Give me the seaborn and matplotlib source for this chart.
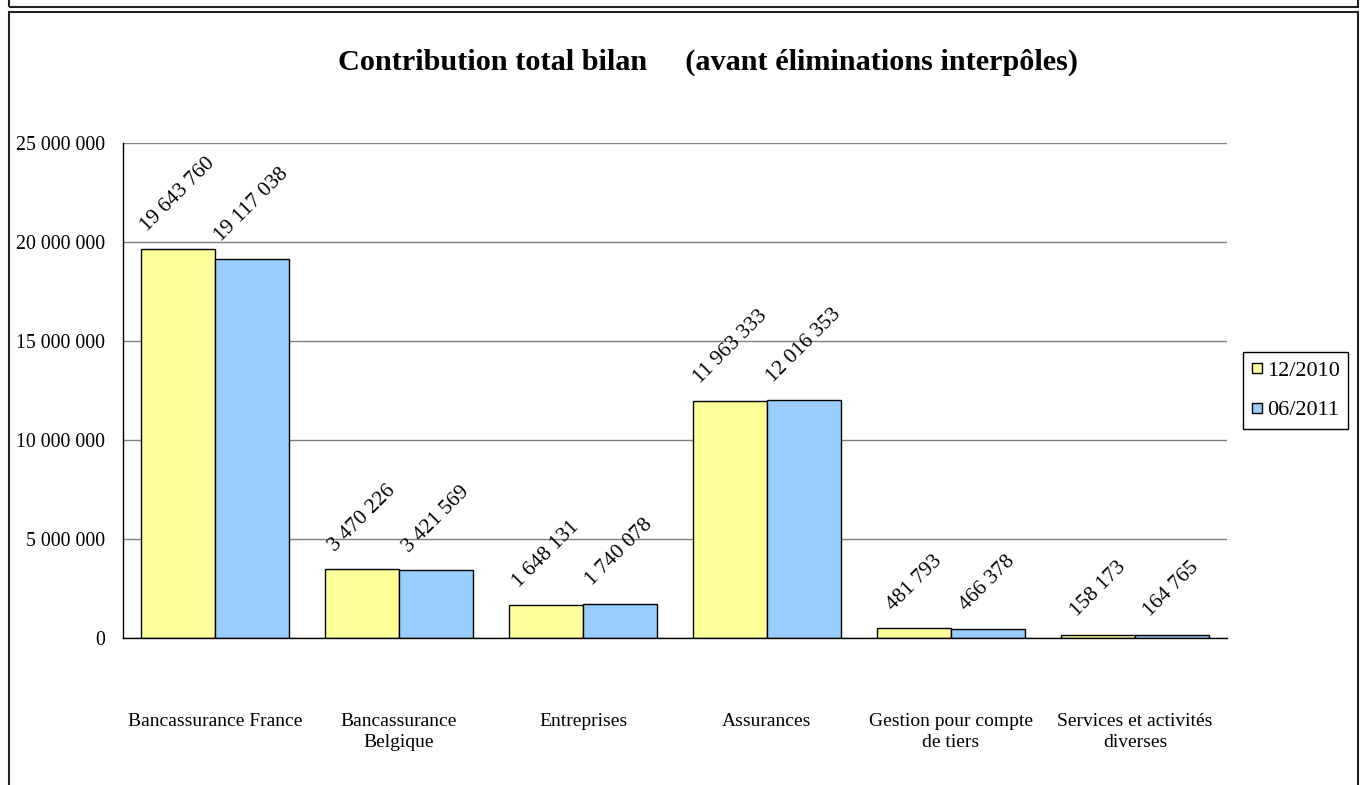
import matplotlib

matplotlib.use("Agg")
import matplotlib.pyplot as plt
import matplotlib.ticker as mticker
import pandas as pd
import seaborn as sns
from matplotlib.lines import Line2D
from matplotlib.patches import Rectangle

categories = [
    "Bancassurance France",
    "Bancassurance\nBelgique",
    "Entreprises",
    "Assurances",
    "Gestion pour compte\nde tiers",
    "Services et activités\ndiverses",
]
periods = ["12/2010", "06/2011"]
values_2010 = [19643760, 3470226, 1648131, 11963333, 481793, 158173]
values_2011 = [19117038, 3421569, 1740078, 12016353, 466378, 164765]
bar_colors = ["#FFFF99", "#99CCFF"]
y_ticks = [0, 5000000, 10000000, 15000000, 20000000, 25000000]

W, H = 1363, 785


def fmt_space(v, _pos=None):
    return f"{int(v):,}".replace(",", " ")


df = pd.DataFrame(
    {
        "segment": categories * 2,
        "periode": [periods[0]] * len(categories) + [periods[1]] * len(categories),
        "montant": values_2010 + values_2011,
    }
)

sns.set_style("white")
plt.rcParams["font.family"] = ["Liberation Serif", "DejaVu Serif"]
plt.rcParams["text.color"] = "black"
plt.rcParams["xtick.color"] = "black"
plt.rcParams["ytick.color"] = "black"

fig = plt.figure(figsize=(W / 100, H / 100), dpi=100)
ax = fig.add_axes([123 / W, 1 - 638 / H, (1227 - 123) / W, (638 - 143) / H])

sns.barplot(
    data=df,
    x="segment",
    y="montant",
    hue="periode",
    order=categories,
    hue_order=periods,
    palette=bar_colors,
    saturation=1,
    edgecolor="black",
    linewidth=1,
    width=0.8,
    legend=False,
    ax=ax,
)

for container, vals in zip(ax.containers, [values_2010, values_2011]):
    ax.bar_label(
        container,
        labels=[fmt_space(v) for v in vals],
        padding=10,
        rotation=45,
        fontsize=15.5,
        color="black",
    )

ax.set_xlim(-0.5, len(categories) - 0.5)
ax.set_ylim(0, 25000000)
ax.set_yticks(y_ticks)
ax.yaxis.set_major_formatter(mticker.FuncFormatter(fmt_space))
ax.yaxis.grid(True, color="#808080", linewidth=1)
ax.set_axisbelow(True)
ax.set_xlabel("")
ax.set_ylabel("")

ax.set_xticks(range(len(categories)))
ax.set_xticklabels(categories, fontsize=14, linespacing=1.3)
ax.set_xticks([i - 0.5 for i in range(len(categories) + 1)], minor=True)
ax.tick_params(axis="x", which="major", length=0, pad=54)
ax.tick_params(axis="x", which="minor", length=6, width=1, direction="out", color="black")
ax.tick_params(axis="y", length=6, width=1, direction="out", color="black", labelsize=14.3, pad=7)

for side in ["top", "right"]:
    ax.spines[side].set_visible(False)
for side in ["left", "bottom"]:
    ax.spines[side].set_color("black")
    ax.spines[side].set_linewidth(1)

fig.text(
    708 / W,
    1 - 62 / H,
    "Contribution total bilan     (avant éliminations interpôles)",
    ha="center",
    va="center",
    fontsize=21.8,
    fontweight="bold",
)

handles = [
    Line2D([], [], marker="s", linestyle="none", markersize=7,
           markerfacecolor=c, markeredgecolor="black", markeredgewidth=1)
    for c in bar_colors
]
fig.legend(
    handles,
    periods,
    loc="upper left",
    bbox_to_anchor=(1243 / W, 1 - 352 / H),
    bbox_transform=fig.transFigure,
    borderaxespad=0,
    fontsize=16,
    frameon=True,
    fancybox=False,
    edgecolor="black",
    framealpha=1,
    handlelength=0.5,
    handletextpad=0.2,
    labelspacing=0.85,
    borderpad=0.38,
)

# page frames around the chart
fig.add_artist(Rectangle((9 / W, -0.1), (1358 - 9) / W, 0.1 + (H - 12) / H,
                         transform=fig.transFigure, fill=False,
                         edgecolor="#222222", linewidth=1.5))
fig.add_artist(Rectangle((9 / W, 1 - 7 / H), (1358 - 9) / W, 0.2,
                         transform=fig.transFigure, fill=False,
                         edgecolor="#222222", linewidth=1.5))

fig.savefig("out.png", dpi=100)
plt.close(fig)
